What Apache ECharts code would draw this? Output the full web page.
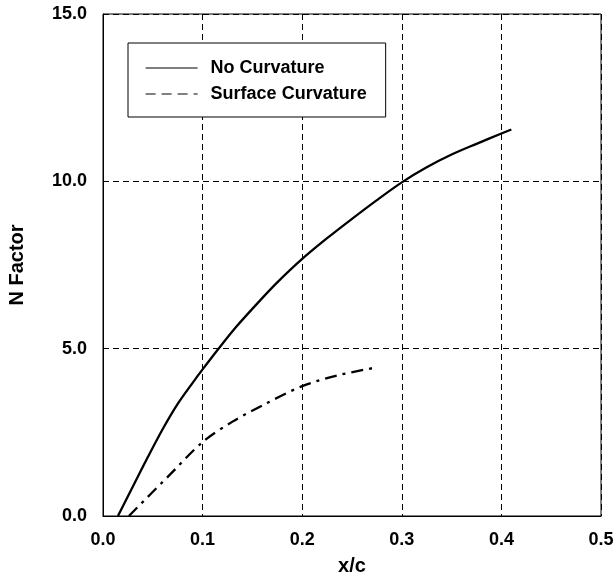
<!DOCTYPE html>
<html>
<head>
<meta charset="utf-8">
<script src="https://cdn.jsdelivr.net/npm/echarts@6/dist/echarts.min.js"></script>
<style>html,body{margin:0;padding:0;background:#fff;}#c{width:616px;height:575px;}</style>
</head>
<body>
<div id="c"></div>
<script>
var xTicks = [0.0, 0.1, 0.2, 0.3, 0.4, 0.5];
var yTicks = [0.0, 5.0, 10.0, 15.0];
var seriesNames = ['No Curvature', 'Surface Curvature'];
var noCurvX = [0.015, 0.03, 0.045, 0.06, 0.075, 0.09, 0.1, 0.115, 0.134, 0.158, 0.175, 0.2, 0.225, 0.25, 0.275, 0.3, 0.325, 0.35, 0.375, 0.4, 0.41];
var noCurvN = [0.0, 0.88, 1.76, 2.6, 3.35, 3.98, 4.38, 4.96, 5.66, 6.45, 6.98, 7.68, 8.3, 8.88, 9.44, 9.97, 10.42, 10.8, 11.12, 11.43, 11.55];
var surfCurvX = [0.026, 0.065, 0.1, 0.13, 0.161, 0.2, 0.235, 0.271];
var surfCurvN = [0.0, 1.17, 2.21, 2.82, 3.32, 3.88, 4.2, 4.42];

function pairs(xs, ys) { return xs.map(function (x, i) { return [x, ys[i]]; }); }

var font = '"Liberation Sans", Arial, Helvetica, sans-serif';
var chart = echarts.init(document.getElementById('c'), null, { renderer: 'canvas' });
chart.setOption({
  backgroundColor: '#fff',
  animation: false,
  grid: { left: 103, right: 15, top: 14, bottom: 59, outerBoundsMode: 'none', containLabel: false,
    show: true, borderColor: '#000', borderWidth: 1, backgroundColor: 'transparent' },
  legend: {
    orient: 'vertical',
    left: 128, top: 43,
    padding: [16, 19, 14, 17],
    itemGap: 8,
    itemWidth: 52, itemHeight: 16,
    backgroundColor: '#fff',
    borderColor: '#000', borderWidth: 1, borderRadius: 0,
    textStyle: { fontFamily: font, fontWeight: 'bold', fontSize: 18, color: '#000', padding: [0, 0, 0, 8] },
    data: [
      { name: seriesNames[0], icon: 'inherit', itemStyle: { opacity: 0 }, lineStyle: { type: 'solid', width: 1.2, color: '#000' } },
      { name: seriesNames[1], icon: 'inherit', itemStyle: { opacity: 0 }, lineStyle: { type: [10, 6], width: 1.2, color: '#000' } }
    ]
  },
  xAxis: {
    type: 'value', min: 0, max: 0.5, interval: 0.1,
    name: 'x/c', nameLocation: 'middle', nameGap: 40,
    nameTextStyle: { fontFamily: font, fontWeight: 'bold', fontSize: 20, color: '#000' },
    axisLine: { show: true, lineStyle: { color: '#000', width: 1 } },
    axisTick: { show: false },
    axisLabel: { margin: 15, fontFamily: font, fontWeight: 'bold', fontSize: 18, color: '#000',
      formatter: function (v) { return v.toFixed(1); } },
    splitLine: { show: true, lineStyle: { color: '#000', width: 1, type: [6, 4] } }
  },
  yAxis: {
    type: 'value', min: 0, max: 15, interval: 5,
    name: 'N Factor', nameLocation: 'middle', nameGap: 76,
    nameTextStyle: { fontFamily: font, fontWeight: 'bold', fontSize: 20, color: '#000' },
    axisLine: { show: true, lineStyle: { color: '#000', width: 1 } },
    axisTick: { show: false },
    axisLabel: { margin: 16, fontFamily: font, fontWeight: 'bold', fontSize: 18, color: '#000',
      formatter: function (v) { return v.toFixed(1); } },
    splitLine: { show: true, lineStyle: { color: '#000', width: 1, type: [6, 4] } }
  },
  series: [
    { name: seriesNames[0], type: 'line', smooth: 0.3, showSymbol: false, symbol: 'none',
      data: pairs(noCurvX, noCurvN), lineStyle: { color: '#000', width: 2.3, type: 'solid' }, itemStyle: { color: '#000' } },
    { name: seriesNames[1], type: 'line', smooth: 0.3, showSymbol: false, symbol: 'none',
      data: pairs(surfCurvX, surfCurvN), lineStyle: { color: '#000', width: 2.3, type: [12, 6, 3, 6] }, itemStyle: { color: '#000' } }
  ]
});
</script>
</body>
</html>
